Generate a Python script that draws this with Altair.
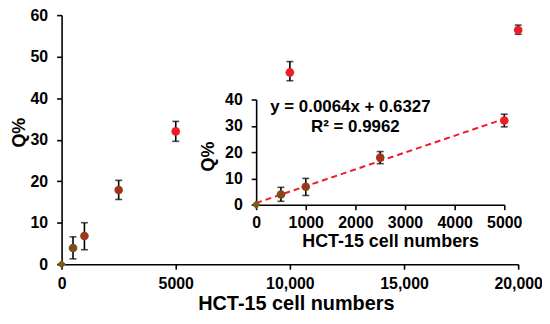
import altair as alt
import pandas as pd

# data
cells = [0, 500, 1000, 2500, 5000, 10000, 20000]
q = [0.0, 3.9, 6.8, 17.9, 32.0, 46.2, 56.4]
q_lo = [0.0, 1.3, 3.5, 15.6, 29.6, 44.2, 55.4]
q_hi = [0.0, 6.6, 10.0, 20.2, 34.4, 48.8, 57.6]
colors = ["#7a5a1c", "#7e4b1c", "#963a1c", "#a0351c", "#ee1c24", "#ee1c24", "#ee1c24"]
shapes = ["diamond", "circle", "circle", "circle", "circle", "circle", "circle"]

slope, intercept = 0.0064, 0.6327
fit_x = [0, 5000]

eq_text = ["y = 0.0064x + 0.6327", "R² = 0.9962"]
eq_x = [1900, 2000]
eq_y = [37.0, 29.4]

FONT = "Liberation Sans"

df = pd.DataFrame({"x": cells, "q": q, "lo": q_lo, "hi": q_hi, "c": colors, "s": shapes})
df_in = df[df["x"] <= 5000]
df_fit = pd.DataFrame({"x": fit_x})
df_txt = pd.DataFrame({"t": eq_text, "x": eq_x, "y": eq_y})

W, H = 460, 251

# main scales / axes
mx = alt.X("x:Q", scale=alt.Scale(domain=[0, 20000], nice=False),
           axis=alt.Axis(orient="bottom", values=[0, 5000, 10000, 15000, 20000], labelOverlap=False, labelFlush=False,
                         labelExpr="datum.value >= 10000 ? format(datum.value, ',') : format(datum.value, 'd')",
                         title="HCT-15 cell numbers", titleFontSize=20, titlePadding=3, titleX=236,
                         labelFontSize=16, tickSize=5, labelPadding=6))
my = alt.Y("q:Q", scale=alt.Scale(domain=[0, 60], nice=False),
           axis=alt.Axis(orient="left", values=[0, 10, 20, 30, 40, 50, 60], labelOverlap=False, labelFlush=False,
                         title="Q%", titleFontSize=18, titlePadding=2, titleY=118,
                         labelFontSize=16, tickSize=5, labelPadding=9))

base = alt.Chart(df)
main_rule = base.mark_rule(color="black", strokeWidth=1.6).encode(x=mx, y=my, y2="hi:Q")
main_rule2 = base.mark_rule(color="black", strokeWidth=1.6).encode(x=mx, y="lo:Q", y2="q:Q")
main_cap_hi = base.mark_tick(color="black", thickness=1.6, size=7, orient="horizontal").encode(x=mx, y="hi:Q")
main_cap_lo = base.mark_tick(color="black", thickness=1.6, size=7, orient="horizontal").encode(x=mx, y="lo:Q")
main_pts = base.mark_point(filled=True, opacity=1, size=75).encode(
    x=mx, y=my, color=alt.Color("c:N", scale=None), shape=alt.Shape("s:N", scale=None))
main = alt.layer(main_rule, main_rule2, main_cap_hi, main_cap_lo, main_pts)

# inset scales / axes (pixel ranges inside the main view)
ix_range = [196, 446]
iy_range = [191, 85]
ix = alt.X("x:Q", scale=alt.Scale(domain=[0, 5000], range=ix_range, nice=False),
           axis=alt.Axis(orient="bottom", offset=-(H - iy_range[0]), labelOverlap=False, labelFlush=False,
                         values=[0, 1000, 2000, 3000, 4000, 5000], format="d",
                         title="HCT-15 cell numbers", titleFontSize=18, titlePadding=2, titleX=331,
                         labelFontSize=16, tickSize=5, labelPadding=5))
iy = alt.Y("q:Q", scale=alt.Scale(domain=[0, 40], range=iy_range, nice=False),
           axis=alt.Axis(orient="left", offset=-ix_range[0], values=[0, 10, 20, 30, 40], labelOverlap=False,
                         labelFlush=False,
                         title="Q%", titleFontSize=18, titlePadding=7, titleY=142,
                         labelFontSize=16, tickSize=5, labelPadding=9))

ib = alt.Chart(df_in)
fit = alt.Chart(df_fit).transform_calculate(q=f"{slope} * datum.x + {intercept}").mark_line(
    color="#ee1c24", strokeWidth=2, strokeDash=[6, 4]).encode(x=ix, y=iy)
in_rule = ib.mark_rule(color="black", strokeWidth=1.6).encode(x=ix, y=alt.Y("lo:Q"), y2="hi:Q")
in_cap_hi = ib.mark_tick(color="black", thickness=1.6, size=7, orient="horizontal").encode(x=ix, y="hi:Q")
in_cap_lo = ib.mark_tick(color="black", thickness=1.6, size=7, orient="horizontal").encode(x=ix, y="lo:Q")
in_pts = ib.mark_point(filled=True, opacity=1, size=75).encode(
    x=ix, y=iy, color=alt.Color("c:N", scale=None), shape=alt.Shape("s:N", scale=None))
in_txt = alt.Chart(df_txt).mark_text(font=FONT, fontWeight="bold", fontSize=17, color="black").encode(
    x=alt.X("x:Q"), y=alt.Y("y:Q"), text="t:N")
inset = alt.layer(fit, in_rule, in_cap_hi, in_cap_lo, in_pts, in_txt)

chart = alt.layer(main, inset).resolve_scale(x="independent", y="independent").properties(
    width=W, height=H,
    autosize=alt.AutoSizeParams(type="none"),
    padding={"left": 54, "top": 6, "right": 24, "bottom": 55},
).configure_view(stroke=None).configure_axis(
    grid=False, labelFont=FONT, titleFont=FONT, labelFontWeight="bold", titleFontWeight="bold",
    labelColor="black", titleColor="black", domainColor="black", tickColor="black",
    domainWidth=1.6, tickWidth=1.6,
)

chart.save("out.html", embed_options={"renderer": "svg", "actions": False})
